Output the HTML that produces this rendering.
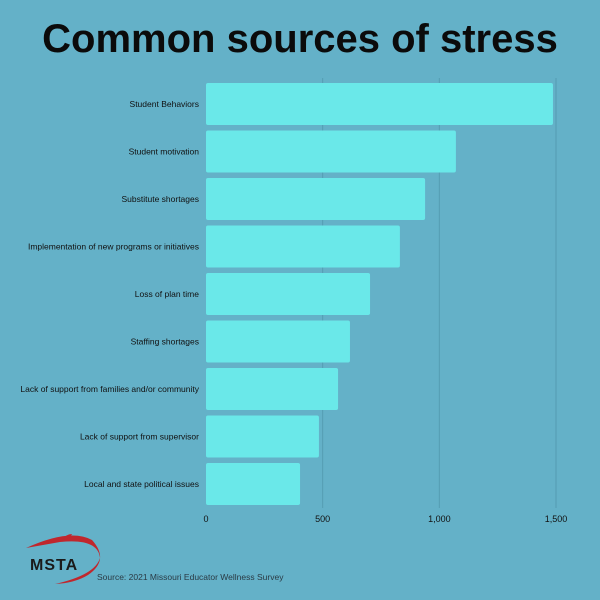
<!DOCTYPE html>
<html><head><meta charset="utf-8"><style>
html,body{margin:0;padding:0;width:600px;height:600px;overflow:hidden;background:#64b1c8;}
svg{display:block;font-family:"Liberation Sans",sans-serif;}
</style></head><body>
<svg width="600" height="600">
<rect x="0" y="0" width="600" height="600" fill="#64b1c8"/>
<text x="300" y="52" text-anchor="middle" font-size="40" font-weight="bold" fill="#0b0b0b">Common sources of stress</text>
<g id="grid"></g>
<g id="bars"></g>
<g id="labels"></g>
<g id="ticks"></g>
<g>
<path d="M26 548 Q70 528 92 540 Q110 560 88 575 Q75 583 55 584 Q95 575 100 558 Q98 538 60 542 Z" fill="#c0272d"/>
<path d="M62 540 q4 -6 10 -6 q-2 5 -10 6z" fill="#c0272d"/>
<text x="30" y="570" font-size="16" font-weight="bold" fill="#1a1a1a" letter-spacing="1">MSTA</text>
</g>
<text x="97" y="580" font-size="8.5" fill="#2a3a44">Source: 2021 Missouri Educator Wellness Survey</text>
</svg>
<script>
const categories=["Student Behaviors","Student motivation","Substitute shortages","Implementation of new programs or initiatives","Loss of plan time","Staffing shortages","Lack of support from families and/or community","Lack of support from supervisor","Local and state political issues"];
const values=[1487,1071,939,831,703,617,566,484,403];
const tickValues=[0,500,1000,1500];
const tickLabels=["0","500","1,000","1,500"];
const NS="http://www.w3.org/2000/svg";
const x0=206,scale=(556-206)/1500,top0=83,step=47.5,bh=42;
const xs=v=>x0+v*scale, ys=i=>top0+i*step;
function mk(t,a){const e=document.createElementNS(NS,t);for(const k in a)e.setAttribute(k,a[k]);return e;}
const grid=document.getElementById('grid'),bars=document.getElementById('bars'),labels=document.getElementById('labels'),ticks=document.getElementById('ticks');
tickValues.forEach((v,i)=>{
 if(v>0){const l=mk('line',{x1:xs(v),x2:xs(v),y1:78,y2:508,stroke:'#559cb2','stroke-width':1});
 
 
 grid.appendChild(l);}
 const t=mk('text',{x:xs(v),y:522,'text-anchor':'middle','font-size':9,fill:'#111'});
 t.textContent=tickLabels[i];
 
 
 ticks.appendChild(t);
});
categories.forEach((c,i)=>{
 const r=mk('rect',{x:x0,y:ys(i),width:xs(values[i])-x0,height:bh,rx:2,fill:'#6ae8e9'});
 
 
 bars.appendChild(r);
 const t=mk('text',{x:199,y:ys(i)+bh/2+3,'text-anchor':'end','font-size':8.5,fill:'#111',textLength:'',});
 t.removeAttribute('textLength');
 t.textContent=c;
 
 
 labels.appendChild(t);
});
</script>
</body></html>
